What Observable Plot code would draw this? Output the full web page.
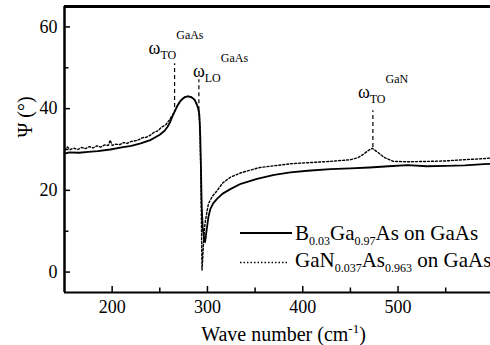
<!DOCTYPE html>
<html><head><meta charset="utf-8">
<script src="https://cdn.jsdelivr.net/npm/d3@7"></script>
<script src="https://cdn.jsdelivr.net/npm/@observablehq/plot@0.6"></script>
<style>
body{margin:0;background:#fff;}
#chart{position:relative;width:490px;height:345px;}
#chart svg.legend{position:absolute;left:0;top:0;pointer-events:none;}
</style></head><body><div id="chart"></div>
<script>
// ---- data ----
const solidName = "B_{0.03}Ga_{0.97}As on GaAs";
const dottedName = "GaN_{0.037}As_{0.963} on GaAs";
const solidWn = [150,155,165,175,185,198,210,220,230,240,250,255,258,261,264,268,272,276,280,284,287,290,291.5,292.5,293.3,294,295,296.5,297.5,299,301,303,306,310,316,324,335,352,370,387,405,429,450,470,490,510,530,550,570,590,597];
const solidPsi = [29.0,29.3,29.2,29.4,29.6,30.0,30.5,30.9,31.5,32.3,33.6,34.6,35.5,36.8,38.5,40.5,42.0,42.8,43.0,42.7,42.0,40.3,38.5,33,24,16,11,8,7.3,10,13.5,15.4,16.8,17.9,19.2,20.3,21.6,22.8,23.8,24.4,24.8,25.2,25.4,25.6,25.9,26.2,25.9,26.0,26.1,26.4,26.5];
const dottedWn = [150,153,156,160,164,168,172,176,180,184,188,192,196,198,200,204,208,212,216,220,224,228,232,236,240,244,248,252,256,260,263,266,270,274,278,282,286,289,291,292,293,293.8,294.3,295,296,297.5,299.5,301,305,310,316,324,335,355,387,429,450,458,464,469,473,477,481,486,495,510,534,550,569,585,597];
const dottedPsi = [29.8,30.6,30.0,30.3,30.0,30.5,30.2,30.7,30.4,30.9,30.6,31.1,31.0,32.3,31.0,31.3,31.2,31.7,31.5,32.0,32.1,32.4,32.9,33.0,33.5,34.2,34.6,35.5,36.0,37.2,38.3,39.6,41.3,42.5,43.0,43.0,42.3,41.0,39.5,36,25,10,0.5,3,8,12,14.8,16.7,18.5,19.9,21.8,23.2,24.3,25.6,26.5,27.1,27.5,28.0,28.9,29.8,30.3,29.6,28.9,28.0,27.1,27.0,27.1,27.2,27.5,27.7,27.9];
const xTicksMajor = [200,300,400,500];
const xTicksMinor = [250,350,450,550];
const yTicksMajor = [0,20,40,60];
const yTicksMinor = [10,30,50];
const peakLabels = ["ω_{TO}^{GaAs}", "ω_{LO}^{GaAs}", "ω_{TO}^{GaN}"];
const peakWn = [265.5, 291, 473.6];
const peakTop = [51.0, 47.1, 39.5];
const peakBottom = [40.3, 39.5, 30.5];
const xLabel = "Wave number (cm^{-1})";
const yLabel = "Ψ (°)";

// ---- layout ----
const W = 490, H = 345, mT = 6, mB = 53, mL = 64, mR = 0;
const innerW = W - mL - mR, innerH = H - mT - mB;
const labelOffsets = [[-26,-10],[-6,-3],[-15,-13]];

const solid = solidWn.map((x,i)=>({x, y: solidPsi[i]}));
const dotted = dottedWn.map((x,i)=>({x, y: dottedPsi[i]}));
const peaks = peakWn.map((wn,i)=>({wn, top: peakTop[i], bottom: peakBottom[i], label: peakLabels[i]}));

const font = "Liberation Serif";
const marks = [
  Plot.line(dotted, {x:"x", y:"y", stroke:"black", strokeWidth:1.4, strokeDasharray:"2,2"}),
  Plot.line(solid, {x:"x", y:"y", stroke:"black", strokeWidth:1.8}),
  Plot.ruleX(peaks, {x:"wn", y1:"bottom", y2:"top", stroke:"black", strokeWidth:1.2, strokeDasharray:"4,3"}),
  ...peaks.map((p,i)=>Plot.text([p], {x:"wn", y:"top", text:"label", textAnchor:"start", lineAnchor:"bottom", dx:labelOffsets[i][0], dy:labelOffsets[i][1], fontSize:18, fill:"black"})),
  Plot.tickX(xTicksMajor, {x:d=>d, insetTop: innerH-6, strokeWidth:1.5}),
  Plot.tickX(xTicksMinor, {x:d=>d, insetTop: innerH-4.5, strokeWidth:1.5}),
  Plot.tickY(yTicksMajor, {y:d=>d, insetRight: innerW-6, strokeWidth:1.5}),
  Plot.tickY(yTicksMinor, {y:d=>d, insetRight: innerW-4.5, strokeWidth:1.5}),
  Plot.ruleY([-5], {strokeWidth:2}),
  Plot.ruleY([65], {strokeWidth:3}),
  Plot.ruleX([150], {strokeWidth:2.5}),
  Plot.axisX(xTicksMajor, {tickSize:0, tickPadding:7.5, fontSize:18, fontVariant:"normal", label:null}),
  Plot.axisY(yTicksMajor, {tickSize:0, tickPadding:7, fontSize:18, fontVariant:"normal", label:null}),
  Plot.text([xLabel], {text:d=>d, frameAnchor:"bottom", lineAnchor:"bottom", dx:6, dy:48, fontSize:20}),
  Plot.text([yLabel], {text:d=>d, frameAnchor:"left", rotate:-90, dx:-39, dy:-12, fontSize:20})
];

const svg = Plot.plot({
  width: W, height: H,
  marginTop: mT, marginBottom: mB, marginLeft: mL, marginRight: mR,
  x: {domain:[150, 597]},
  y: {domain:[-5, 65]},
  style: {fontFamily: font, fontSize:"18px", color:"black", background:"white"},
  marks
});

function rich(el, opts) {
  const t = d3.select(el);
  const s = el.textContent;
  t.text(null);
  const re = /([_^])\{([^}]*)\}|([^_^]+)/g;
  let m, cur = 0;
  while ((m = re.exec(s))) {
    let txt, target, size = null;
    if (m[3] !== undefined) { txt = m[3]; target = 0; }
    else if (m[1] === "_") { txt = m[2]; target = opts.sub; size = opts.subSize; }
    else { txt = m[2]; target = -opts.sup; size = opts.supSize; }
    const ts = t.append("tspan").text(txt);
    if (size) ts.attr("font-size", size);
    if (target !== cur) ts.attr("dy", target - cur);
    cur = target;
  }
}
d3.select(svg).attr("font-family", font);
d3.select(svg).selectAll("g").attr("font-variant", null);
d3.select(svg).selectAll("text").attr("font-family", font).attr("font-variant", null).each(function() {
  const s = this.textContent;
  if (!/[_^]\{/.test(s)) return;
  if (s.startsWith("ω")) rich(this, {sub:5, subSize:12, sup:15, supSize:12});
  else rich(this, {sub:5, subSize:12, sup:8, supSize:13});
});

const chart = document.getElementById("chart");
chart.appendChild(svg);

// ---- legend overlay ----
const lg = d3.select(chart).append("svg").attr("class","legend")
  .attr("width", W).attr("height", H);
const entries = [
  {name: solidName, dash: null, width: 1.8, x2: 292, ly: 233, ty: 240},
  {name: dottedName, dash: "1.5,2", width: 1.3, x2: 289, ly: 262.5, ty: 266.5}
];
entries.forEach(e => {
  lg.append("line").attr("x1", 240).attr("x2", e.x2).attr("y1", e.ly).attr("y2", e.ly)
    .attr("stroke","black").attr("stroke-width", e.width).attr("stroke-dasharray", e.dash);
  const t = lg.append("text").attr("x", 295).attr("y", e.ty).attr("font-size", 21)
    .attr("font-family", font).attr("fill","black").text(e.name);
  rich(t.node(), {sub:5, subSize:12, sup:8, supSize:12});
});
</script></body></html>
